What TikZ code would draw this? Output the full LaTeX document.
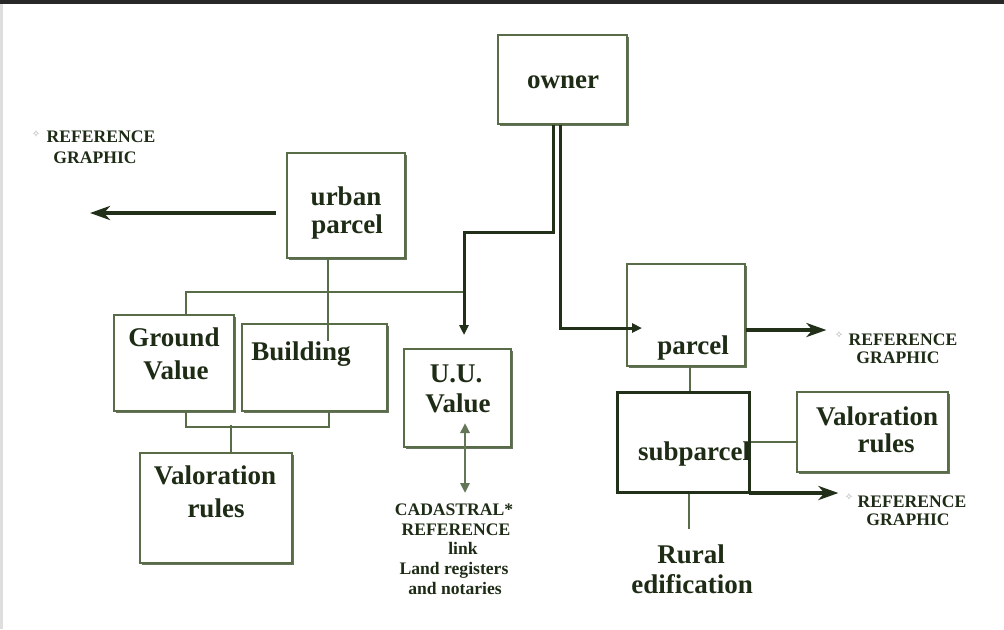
\documentclass[tikz,border=0pt]{standalone}
\usepackage{fontspec}
\setmainfont{Liberation Serif}
\newfontfamily\symfont{DejaVu Sans}
\usetikzlibrary{arrows.meta,shadows}

\definecolor{boxline}{RGB}{88,108,72}
\definecolor{boxshade}{RGB}{52,70,40}
\definecolor{ink}{RGB}{30,44,22}
\definecolor{flow}{RGB}{34,48,26}
\definecolor{lnk}{RGB}{100,118,88}
\definecolor{topbar}{RGB}{40,40,40}
\definecolor{edge}{RGB}{222,222,222}

\tikzset{
  box/.style={draw=boxline, line width=1pt, fill=white, inner sep=0pt,
    drop shadow={shadow xshift=0.9pt, shadow yshift=-0.9pt, fill=boxshade, opacity=0.75}},
  heavybox/.style={box, draw=flow, line width=1.5pt},
  lbl/.style={anchor=base, inner sep=0pt, text=ink, font=\fontsize{13.5}{16}\selectfont\bfseries},
  small/.style={anchor=base, inner sep=0pt, text=ink, font=\fontsize{8.8}{10}\selectfont\bfseries},
  spark/.style={inner sep=0pt, text=gray!70, font=\symfont\fontsize{5}{5}\selectfont},
  wire/.style={draw=boxline, line width=0.7pt},
  ownerflow/.style={draw=flow, line width=1.5pt, -{Triangle[length=5pt,width=4.5pt]}},
  refarrow/.style={draw=flow, line width=2pt, -{Stealth[length=10pt,width=7pt,inset=3pt]}},
  linkarrow/.style={draw=lnk, line width=1.4pt,
    {Triangle[length=5pt,width=4.5pt]}-{Triangle[length=5pt,width=4.5pt]}}
}

\begin{document}
\begin{tikzpicture}[x=0.5pt,y=-0.5pt]
  \useasboundingbox (0,0) rectangle (1004,629);
  % page frame
  \fill[topbar] (0,0) rectangle (1004,4);
  \fill[edge] (0,4) rectangle (3,629);

  % boxes
  \node[box, minimum width=64.5pt, minimum height=44.5pt] (owner) at (562.5,79.5) {};
  \node[box, minimum width=59pt, minimum height=52.5pt] (urban) at (346,205.5) {};
  \node[box, minimum width=60pt, minimum height=48pt] (ground) at (174,363) {};
  \node[box, minimum width=72.5pt, minimum height=43.5pt] (building) at (314.5,367.5) {};
  \node[box, minimum width=76pt, minimum height=55pt] (valL) at (216,508) {};
  \node[box, minimum width=53.5pt, minimum height=49pt] (uu) at (457.5,398) {};
  \node[box, minimum width=59pt, minimum height=51pt] (parcel) at (686,315) {};
  \node[heavybox, minimum width=66pt, minimum height=50pt] (subp) at (683,442) {};
  \node[box, minimum width=75.5pt, minimum height=40pt] (valR) at (872.5,432) {};

  % box texts
  \node[lbl] (ownerT) at (563,88) {owner};
  \node[lbl] (urbanT1) at (346,205) {urban};
  \node[lbl] (urbanT2) at (347,233) {parcel};
  \node[lbl] (groundT1) at (174,346) {Ground};
  \node[lbl] (groundT2) at (176,379) {Value};
  \node[lbl] (buildingT) at (301,360) {Building};
  \node[lbl] (valLT1) at (215,484) {Valoration};
  \node[lbl] (valLT2) at (216,517) {rules};
  \node[lbl] (uuT1) at (456,382) {U.U.};
  \node[lbl] (uuT2) at (458,412) {Value};
  \node[lbl] (parcelT) at (693,354) {parcel};
  \node[lbl] (subpT) at (694,460) {subparcel};
  \node[lbl] (valRT1) at (877,425) {Valoration};
  \node[lbl] (valRT2) at (886,452) {rules};
  \node[lbl] (ruralT1) at (691,563) {Rural};
  \node[lbl] (ruralT2) at (692,593) {edification};

  % reference graphic labels
  \node[spark] (sparkL) at (36,134) {✧};
  \node[small] (refL1) at (101,142) {REFERENCE};
  \node[small] (refL2) at (95,163) {GRAPHIC};
  \node[spark] (sparkP) at (839,335) {✧};
  \node[small] (refP1) at (903,345) {REFERENCE};
  \node[small] (refP2) at (898,363) {GRAPHIC};
  \node[spark] (sparkS) at (849,497) {✧};
  \node[small] (refS1) at (912,507) {REFERENCE};
  \node[small] (refS2) at (908,525) {GRAPHIC};

  % cadastral reference label
  \node[small] (cad1) at (454,515) {CADASTRAL*};
  \node[small] (cad2) at (456,535) {REFERENCE};
  \node[small] (cad3) at (463,554) {link};
  \node[small] (cad4) at (454,574) {Land registers};
  \node[small] (cad5) at (455,594) {and notaries};

  % free ends and junctions
  \coordinate (refLend) at (90,213);
  \coordinate (bus) at (464,292);
  \coordinate (subpOut) at (749,493);

  % thin links
  \draw[wire] ([xshift=-9pt]urban.south) -- ++(0,82);
  \draw[wire] ([xshift=6pt]ground.north) |- (bus);
  \draw[wire] ([xshift=6pt]ground.south) -- ++(0,15) -| ([xshift=7.25pt]building.south);
  \draw[wire] ([xshift=7.5pt]valL.north) -- ++(0,-27);
  \draw[wire] ([xshift=2pt]parcel.south) -- ([xshift=2pt]parcel.south |- subp.north);
  \draw[wire] (subp.east) -- (subp.east -| valR.west);
  \draw[wire] ([xshift=3pt]subp.south) -- ++(0,35);

  % owner flows
  \draw[ownerflow] ([xshift=-4.75pt]owner.south) -- ++(0,107) -| ([xshift=3.25pt,yshift=6.5pt]uu.north);
  \draw[ownerflow] ([xshift=-1.25pt]owner.south) |- ([xshift=8pt,yshift=-6.5pt]parcel.west);

  % reference graphic arrows
  \draw[refarrow] ([xshift=-5pt,yshift=-3.75pt]urban.west) -- (refLend);
  \draw[refarrow] ([yshift=-7.5pt]parcel.east) -- ([xshift=-4pt,yshift=-7.5pt]sparkP.west |- parcel.east);
  \draw[refarrow] (subpOut) -- ([xshift=-3pt]sparkS.west |- subpOut);

  % link to land registers
  \draw[linkarrow] ([xshift=3.75pt,yshift=12.5pt]uu.south) -- ++(0,70);
\end{tikzpicture}
\end{document}
